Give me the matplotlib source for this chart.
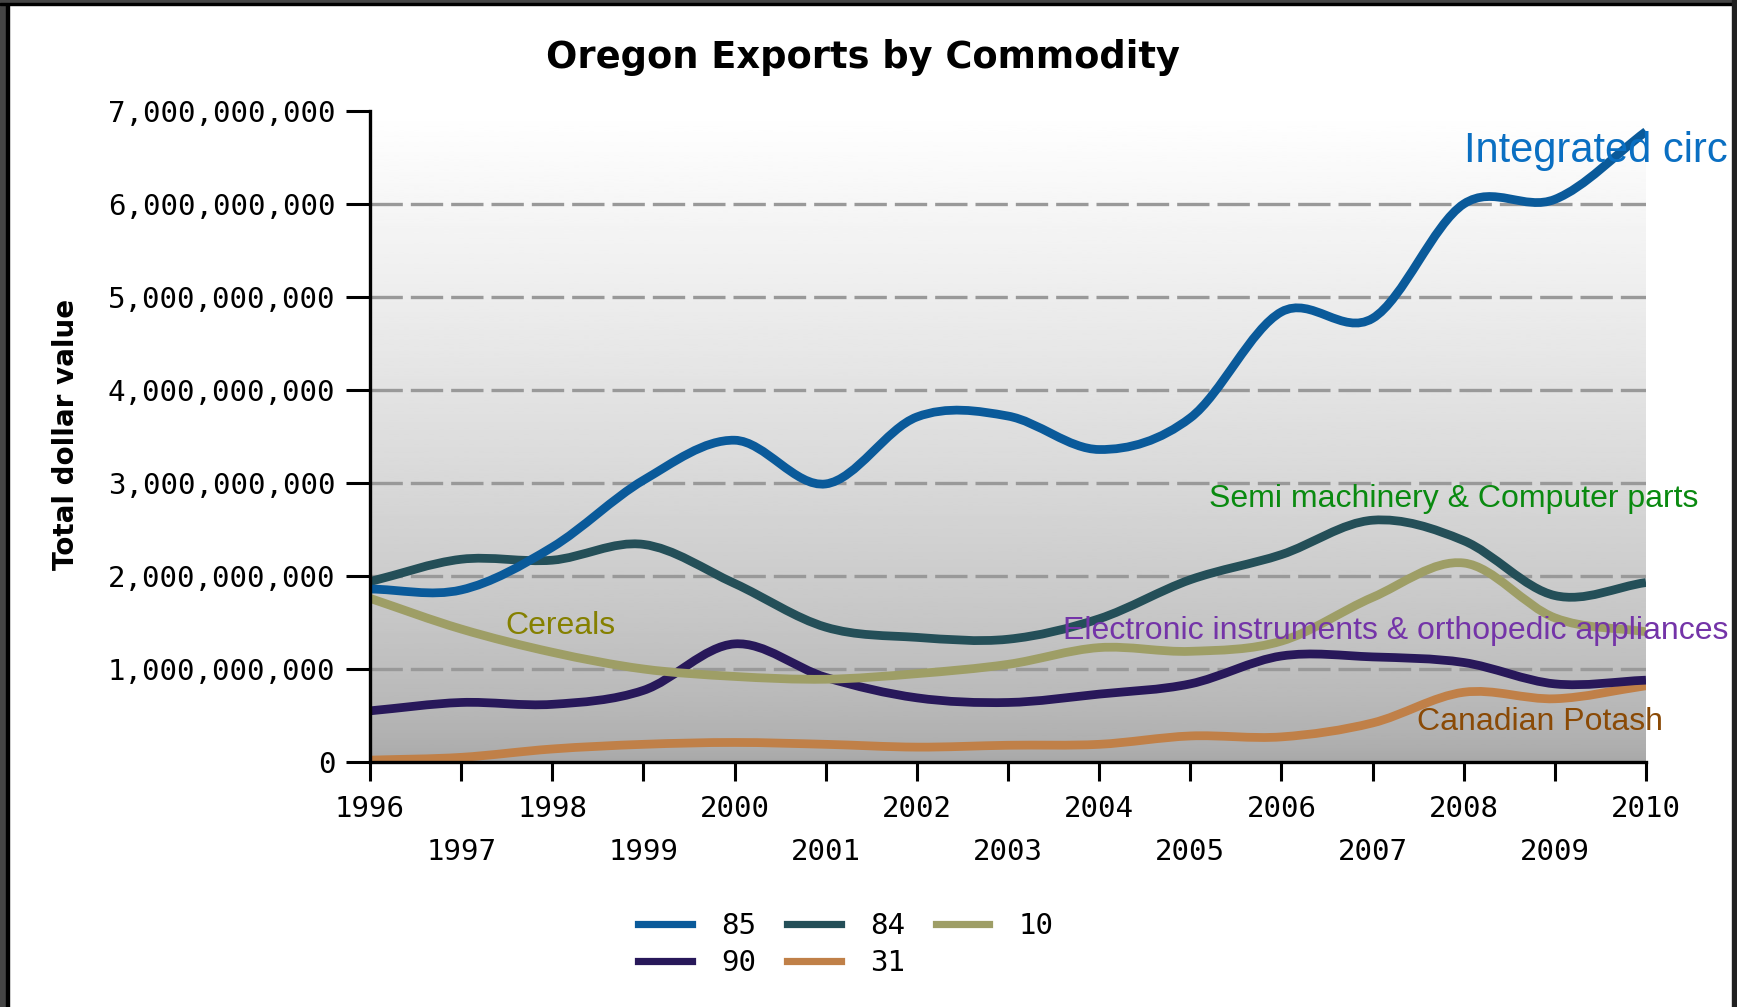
import matplotlib
matplotlib.use('Agg')
import matplotlib.pyplot as plt
import numpy as np
from matplotlib.path import Path
from matplotlib.patches import PathPatch, Rectangle
from matplotlib.lines import Line2D
from matplotlib.ticker import FuncFormatter

# yearly export values, billions of dollars
years = [1996, 1997, 1998, 1999, 2000, 2001, 2002, 2003, 2004, 2005, 2006, 2007, 2008, 2009, 2010]
hs85 = [1.86, 1.85, 2.31, 3.03, 3.46, 2.99, 3.71, 3.72, 3.36, 3.70, 4.84, 4.77, 6.00, 6.05, 6.78]
hs84 = [1.94, 2.18, 2.17, 2.34, 1.92, 1.45, 1.34, 1.32, 1.54, 1.96, 2.23, 2.60, 2.38, 1.79, 1.93]
hs10 = [1.76, 1.43, 1.18, 1.00, 0.92, 0.89, 0.95, 1.05, 1.23, 1.19, 1.30, 1.77, 2.14, 1.55, 1.40]
hs90 = [0.55, 0.64, 0.62, 0.77, 1.27, 0.91, 0.69, 0.64, 0.73, 0.84, 1.14, 1.13, 1.07, 0.84, 0.88]
hs31 = [0.02, 0.05, 0.14, 0.19, 0.21, 0.19, 0.16, 0.18, 0.19, 0.28, 0.27, 0.42, 0.75, 0.68, 0.82]

codes = ['85', '84', '10', '90', '31']
colors = {'85': '#0a5a9a', '84': '#244f58', '10': '#9e9e66', '90': '#28185a', '31': '#c08048'}
series = {'85': hs85, '84': hs84, '10': hs10, '90': hs90, '31': hs31}

mono = 'DejaVu Sans Mono'


def smooth_path(xs, ys):
    # catmull-rom curve through the points, as bezier segments
    xs = np.asarray(xs, float)
    ys = np.asarray(ys, float)
    n = len(xs)
    mx = np.gradient(xs)
    my = np.gradient(ys)
    verts = [(xs[0], ys[0])]
    kinds = [Path.MOVETO]
    for i in range(n - 1):
        verts.append((xs[i] + mx[i] / 3, ys[i] + my[i] / 3))
        verts.append((xs[i + 1] - mx[i + 1] / 3, ys[i + 1] - my[i + 1] / 3))
        verts.append((xs[i + 1], ys[i + 1]))
        kinds += [Path.CURVE4] * 3
    return Path(verts, kinds)


fig = plt.figure(figsize=(17.37, 10.07), dpi=100)
ax = fig.add_axes([370 / 1737, 245 / 1007, 1276 / 1737, 651 / 1007])

# grey gradient background, light at the top
ramp = np.linspace(0, 1, 256) ** 0.7
grad = (0.66 + 0.34 * ramp).reshape(-1, 1)
ax.imshow(grad, extent=[years[0], years[-1], 0, 7e9], origin='lower', aspect='auto',
          cmap='gray', vmin=0, vmax=1, zorder=0)

for c in ['31', '90', '10', '84', '85']:
    vals = [v * 1e9 for v in series[c]]
    ax.add_patch(PathPatch(smooth_path(years, vals), fill=False, edgecolor=colors[c],
                           lw=6.3, zorder=3, capstyle='butt'))

ax.set_xlim(years[0], years[-1])
ax.set_ylim(0, 7e9)

ax.set_yticks(np.arange(0, 8) * 1e9)
ax.yaxis.set_major_formatter(FuncFormatter(lambda v, p: f'{int(round(v)):,}'))
ax.set_xticks(years[0::2])
ax.set_xticks(years[1::2], minor=True)
ax.set_xticklabels([str(y) for y in years[0::2]])
ax.set_xticklabels([str(y) for y in years[1::2]], minor=True)

ax.tick_params(axis='y', length=17, width=2.2, pad=8, labelsize=21, direction='out')
ax.tick_params(axis='x', which='both', length=13.5, width=2.2, labelsize=21, direction='out')
ax.tick_params(axis='x', which='major', pad=10)
ax.tick_params(axis='x', which='minor', pad=41)
for lab in ax.get_xticklabels(which='both') + ax.get_yticklabels():
    lab.set_fontfamily(mono)

ax.set_axisbelow(True)
ax.yaxis.grid(True, color='#999999', lw=2.4, dashes=(9.7, 2.4))
ax.get_ygridlines()[-1].set_visible(False)
ax.get_ygridlines()[0].set_visible(False)

for s in ['top', 'right']:
    ax.spines[s].set_visible(False)
for s in ['left', 'bottom']:
    ax.spines[s].set_linewidth(2.4)
    ax.spines[s].set_zorder(4)

# series name labels
ax.text(2008.0, 6.57e9, 'Integrated circ', color='#0a6fc2', fontsize=30,
        family='Liberation Sans', va='center', ha='left', clip_on=False, zorder=5)
ax.text(2005.21, 2.83e9, 'Semi machinery & Computer parts', color='#0a8a10', fontsize=23,
        family='Liberation Sans', va='center', ha='left', clip_on=False, zorder=5)
ax.text(1997.48, 1.46e9, 'Cereals', color='#858000', fontsize=23,
        family='Liberation Sans', va='center', ha='left', clip_on=False, zorder=5)
ax.text(2003.60, 1.41e9, 'Electronic instruments & orthopedic appliances', color='#7434a8',
        fontsize=23, family='Liberation Sans', va='center', ha='left', clip_on=False, zorder=5)
ax.text(2007.49, 0.43e9, 'Canadian Potash', color='#8a4a06', fontsize=23,
        family='Liberation Sans', va='center', ha='left', clip_on=False, zorder=5)

fig.text(863 / 1737, 1 - 58 / 1007, 'Oregon Exports by Commodity', fontsize=26.5,
         fontweight='bold', ha='center', va='center')
fig.text(66 / 1737, 1 - 434 / 1007, 'Total dollar value', fontsize=20, fontweight='bold',
         rotation=90, ha='center', va='center')

# legend, row 1: 85 84 10 / row 2: 90 31
order = ['85', '90', '84', '31', '10']
handles = [Line2D([], [], color=colors[c], lw=5.2) for c in order]
fig.legend(handles, order, loc='upper left', bbox_to_anchor=(638 / 1737, 1 - 912 / 1007),
           ncol=3, frameon=False, borderpad=0, borderaxespad=0, handlelength=1.85,
           handletextpad=1.0, columnspacing=1.05, labelspacing=0.3,
           prop={'family': mono, 'size': 21})

# dark window frame around the screenshot
fig.add_artist(Rectangle((0, 0), 6 / 1737, 1, transform=fig.transFigure, color='#454545', zorder=10))
fig.add_artist(Rectangle((6 / 1737, 0), 3 / 1737, 1, transform=fig.transFigure, color='black', zorder=10))
fig.add_artist(Rectangle((0, 1 - 3 / 1007), 1, 3 / 1007, transform=fig.transFigure, color='#454545', zorder=10))
fig.add_artist(Rectangle((0, 1 - 5 / 1007), 1, 2 / 1007, transform=fig.transFigure, color='black', zorder=10))
fig.add_artist(Rectangle((1732 / 1737, 0), 5 / 1737, 1, transform=fig.transFigure, color='#202020', zorder=10))

fig.savefig('out.png', dpi=100)
